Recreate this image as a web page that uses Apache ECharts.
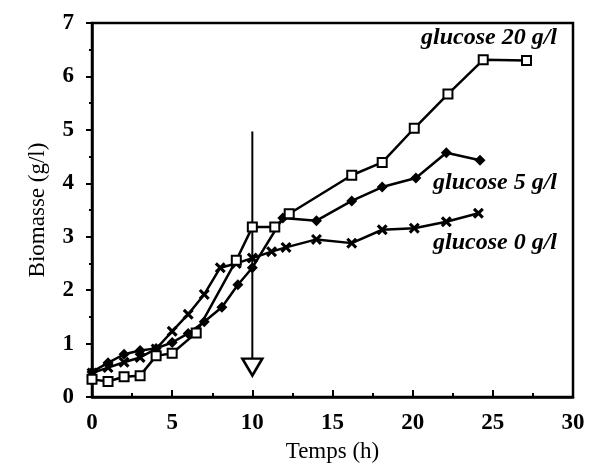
<!DOCTYPE html>
<html>
<head>
<meta charset="utf-8">
<script src="https://cdn.jsdelivr.net/npm/echarts@6/dist/echarts.min.js"></script>
<style>html,body{margin:0;padding:0;background:#fff}#c{width:590px;height:468px}</style>
</head>
<body>
<div id="c"></div>
<script>
// Glucose 20 g/l (open squares)
const g20X = [0, 1, 2, 3, 4, 5, 6.5, 9, 10, 11.4, 12.3, 16.2, 18.1, 20.1, 22.2, 24.4, 27.1];
const g20Y = [0.33, 0.29, 0.38, 0.40, 0.77, 0.82, 1.2, 2.56, 3.18, 3.18, 3.43, 4.15, 4.39, 5.03, 5.67, 6.31, 6.30];
// Glucose 5 g/l (filled diamonds)
const g5X = [0, 1, 2, 3, 4, 5, 6, 7, 8.1, 9.1, 10, 11.9, 14, 16.2, 18.1, 20.2, 22.1, 24.2];
const g5Y = [0.47, 0.64, 0.80, 0.87, 0.91, 1.02, 1.19, 1.41, 1.68, 2.10, 2.42, 3.35, 3.30, 3.67, 3.93, 4.10, 4.57, 4.43];
// Glucose 0 g/l (crosses)
const g0X = [0, 1, 2, 3, 4, 5, 6, 7, 8, 9, 10, 11.2, 12.1, 14, 16.2, 18.1, 20.1, 22.1, 24.1];
const g0Y = [0.45, 0.55, 0.65, 0.74, 0.90, 1.23, 1.55, 1.92, 2.42, 2.50, 2.60, 2.72, 2.80, 2.95, 2.88, 3.13, 3.16, 3.28, 3.44];
// Annotation: arrow at t = 10 h
const arrowX = 10, arrowTop = 4.97, arrowBottom = 0.72, arrowHead = 0.56;
// Curve labels
const labelTexts = ['glucose 20 g/l', 'glucose 5 g/l', 'glucose 0 g/l'];
const labelX = [29.0, 29.0, 29.0];
const labelY = [6.72, 4.0, 2.88];
// Axes
const xTicks = [0, 5, 10, 15, 20, 25, 30];
const yTicks = [0, 1, 2, 3, 4, 5, 6, 7];

const pairs = (xs, ys) => xs.map((x, i) => [x, ys[i]]);
const crossPath = 'path://M0,2 L2,0 L5,3 L8,0 L10,2 L7,5 L10,8 L8,10 L5,7 L2,10 L0,8 L3,5 Z';
const serif = '"Liberation Serif", "DejaVu Serif", serif';

const chart = echarts.init(document.getElementById('c'), null, {renderer: 'canvas'});
chart.setOption({
  backgroundColor: '#fff',
  animation: false,
  grid: {left: 92, right: 17, top: 23, bottom: 71, show: true, borderColor: '#000', borderWidth: 2.5},
  xAxis: {
    type: 'value', min: xTicks[0], max: xTicks[xTicks.length - 1], interval: 5,
    name: 'Temps (h)', nameLocation: 'middle', nameGap: 43,
    nameTextStyle: {fontFamily: serif, fontSize: 23, color: '#000'},
    axisLine: {lineStyle: {color: '#000', width: 2.5}},
    axisTick: {inside: true, length: 7, lineStyle: {color: '#000', width: 2}},
    minorTick: {show: true, splitNumber: 2, length: 4, lineStyle: {color: '#000', width: 2}},
    axisLabel: {fontFamily: serif, fontSize: 23, fontWeight: 'bold', color: '#000', margin: 15},
    splitLine: {show: false}
  },
  yAxis: {
    type: 'value', min: yTicks[0], max: yTicks[yTicks.length - 1], interval: 1,
    name: 'Biomasse (g/l)', nameLocation: 'middle', nameGap: 43, nameRotate: 90,
    nameTextStyle: {fontFamily: serif, fontSize: 23, color: '#000'},
    axisLine: {lineStyle: {color: '#000', width: 2.5}},
    axisTick: {inside: false, length: 6, lineStyle: {color: '#000', width: 2}},
    minorTick: {show: true, splitNumber: 2, length: 3, lineStyle: {color: '#000', width: 2}},
    axisLabel: {fontFamily: serif, fontSize: 23, fontWeight: 'bold', color: '#000', margin: 18},
    splitLine: {show: false}
  },
  series: [
    {
      type: 'line', data: [[arrowX, arrowTop], [arrowX, arrowBottom]],
      symbol: 'none', lineStyle: {color: '#000', width: 2}, z: 1
    },
    {
      type: 'scatter', data: [[arrowX, arrowHead]],
      symbol: 'triangle', symbolRotate: 180, symbolSize: [20, 17],
      itemStyle: {color: '#fff', borderColor: '#000', borderWidth: 2.5, opacity: 1}, z: 1
    },
    {
      type: 'line', data: pairs(g0X, g0Y), symbol: crossPath, symbolSize: 11,
      lineStyle: {color: '#000', width: 2.5}, itemStyle: {color: '#000'}, z: 3
    },
    {
      type: 'line', data: pairs(g5X, g5Y), symbol: 'diamond', symbolSize: 11,
      lineStyle: {color: '#000', width: 2.5}, itemStyle: {color: '#000'}, z: 4
    },
    {
      type: 'line', data: pairs(g20X, g20Y), symbol: 'rect', symbolSize: 9,
      lineStyle: {color: '#000', width: 2.5},
      itemStyle: {color: '#fff', borderColor: '#000', borderWidth: 2}, z: 5
    },
    {
      type: 'scatter', symbolSize: 0, silent: true,
      itemStyle: {opacity: 1, color: '#000'},
      data: labelTexts.map((t, i) => ({value: [labelX[i], labelY[i]], name: t})),
      label: {
        show: true, position: 'left', distance: 0, formatter: p => p.name, opacity: 1,
        fontFamily: serif, fontStyle: 'italic', fontWeight: 'bold', fontSize: 24, color: '#000'
      }, z: 6
    }
  ]
});
</script>
</body>
</html>
